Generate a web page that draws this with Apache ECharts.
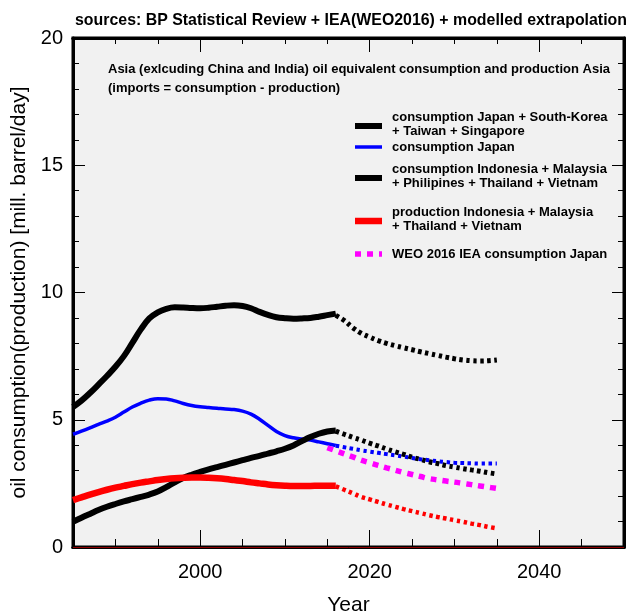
<!DOCTYPE html>
<html><head><meta charset="utf-8">
<script src="https://cdn.jsdelivr.net/npm/echarts@6/dist/echarts.min.js"></script>
<style>html,body{margin:0;padding:0;background:#fff}#c{width:630px;height:613px}</style>
</head><body><div id="c"></div>
<script>
const histYears = [1985,1986,1987,1988,1989,1990,1991,1992,1993,1994,1995,1996,1997,1998,1999,2000,2001,2002,2003,2004,2005,2006,2007,2008,2009,2010,2011,2012,2013,2014,2015,2016];
const projYears = [2016,2017,2018,2019,2020,2021,2022,2023,2024,2025,2026,2027,2028,2029,2030,2031,2032,2033,2034,2035];
const weoYears = [2015,2016,2017,2018,2019,2020,2021,2022,2023,2024,2025,2026,2027,2028,2029,2030,2031,2032,2033,2034,2035];

const consJKTS = [5.5,5.75,6.05,6.38,6.72,7.08,7.5,8.02,8.55,8.98,9.22,9.36,9.42,9.41,9.39,9.38,9.4,9.44,9.48,9.5,9.47,9.38,9.24,9.12,9.03,8.99,8.97,8.98,9.0,9.05,9.11,9.17];
const consJKTSProj = [9.1,8.9,8.62,8.4,8.25,8.11,8.0,7.91,7.83,7.75,7.67,7.6,7.53,7.46,7.4,7.35,7.32,7.31,7.32,7.35];
const consJapan = [4.43,4.55,4.68,4.82,4.95,5.1,5.3,5.5,5.65,5.77,5.83,5.82,5.74,5.64,5.56,5.51,5.48,5.45,5.42,5.4,5.34,5.22,5.02,4.78,4.54,4.38,4.29,4.24,4.2,4.13,4.06,3.99];
const consJapanProj = [3.98,3.92,3.86,3.8,3.75,3.7,3.65,3.6,3.55,3.5,3.45,3.41,3.37,3.34,3.31,3.3,3.29,3.28,3.28,3.28];
const consIMPTV = [0.99,1.15,1.3,1.45,1.58,1.69,1.79,1.88,1.97,2.06,2.18,2.35,2.54,2.71,2.84,2.95,3.05,3.14,3.23,3.32,3.41,3.5,3.58,3.67,3.76,3.86,3.99,4.16,4.32,4.45,4.54,4.58];
const consIMPTVProj = [4.55,4.43,4.31,4.2,4.08,3.97,3.85,3.74,3.64,3.53,3.44,3.35,3.28,3.2,3.14,3.08,3.03,2.98,2.92,2.87];
const prodIMTV = [1.84,1.95,2.06,2.16,2.25,2.33,2.4,2.47,2.53,2.58,2.63,2.67,2.7,2.72,2.73,2.73,2.72,2.7,2.67,2.63,2.59,2.54,2.5,2.46,2.43,2.41,2.4,2.4,2.4,2.41,2.41,2.41];
const prodIMTVProj = [2.38,2.25,2.11,1.97,1.87,1.77,1.67,1.58,1.49,1.41,1.33,1.25,1.18,1.12,1.05,0.99,0.92,0.86,0.79,0.73];
const weoJapan = [3.9,3.78,3.66,3.54,3.41,3.31,3.21,3.11,3.02,2.93,2.85,2.77,2.69,2.64,2.59,2.55,2.5,2.45,2.4,2.35,2.3];

const xLabelValues = [2000,2020,2040];
const legendNames = [
  "consumption Japan + South-Korea\n+ Taiwan + Singapore",
  "consumption Japan",
  "consumption Indonesia + Malaysia\n+ Philipines + Thailand + Vietnam",
  "production Indonesia + Malaysia\n+ Thailand + Vietnam",
  "WEO 2016 IEA consumption Japan"
];
const titleText = "sources: BP Statistical Review + IEA(WEO2016) + modelled extrapolation";
const noteText = ["Asia (exlcuding China and India) oil equivalent consumption and production Asia", "(imports = consumption - production)"];

function pairs(xs, ys){ return xs.map((x,i)=>[x, ys[i]]); }
const FONT = "Liberation Sans, Arial, Helvetica, sans-serif";

function lineSeries(xs, ys, color, width, type){
  return {type:'line', data: pairs(xs, ys), smooth:0.4, symbol:'none', showSymbol:false,
    lineStyle:{color:color, width:width, type:type||'solid', cap:'butt'}, z:3};
}

const chart = echarts.init(document.getElementById('c'), null, {renderer:'canvas'});
const series = [
  lineSeries(histYears, consJKTS, '#000', 6),
  lineSeries(projYears, consJKTSProj, '#000', 5, [3.5,3.5]),
  lineSeries(histYears, consJapan, '#0000ff', 3.5),
  lineSeries(projYears, consJapanProj, '#0000ff', 4, [3.5,3.5]),
  lineSeries(histYears, consIMPTV, '#000', 6),
  lineSeries(projYears, consIMPTVProj, '#000', 5, [3.5,3.5]),
  lineSeries(histYears, prodIMTV, '#ff0000', 6.5),
  lineSeries(projYears, prodIMTVProj, '#ff0000', 4.5, [3.5,3.5]),
  lineSeries(weoYears, weoJapan, '#ff00ff', 5.5, [6,6])
];
series[0].markLine = {silent:true, symbol:'none', label:{show:false}, lineStyle:{color:'#8b0000', width:1, type:'solid'}, data:[{yAxis:0}]};

const legendY = [126, 147, 178, 221, 254];
const legendColors = ['#000','#0000ff','#000','#ff0000','#ff00ff'];
const legendWidths = [6,3.5,6,6.5,5.5];
const legendDash = [null,null,null,null,[6,6]];
const graphics = [];
legendNames.forEach((n,i)=>{
  graphics.push({type:'line', shape:{x1:355, y1:legendY[i], x2:382, y2:legendY[i]},
    style:{stroke:legendColors[i], lineWidth:legendWidths[i], lineDash:legendDash[i]}, z:10});
  graphics.push({type:'text', x:392, y:legendY[i] - (n.indexOf('\n') >= 0 ? 2 : 0), style:{text:n, font:'bold 13px '+FONT, fill:'#000', verticalAlign:'middle', lineHeight:14}, z:10});
});
graphics.push({type:'text', x:108, y:69, style:{text:noteText[0], font:'bold 13px '+FONT, fill:'#000', verticalAlign:'middle'}, z:10});
graphics.push({type:'text', x:108, y:88, style:{text:noteText[1], font:'bold 13px '+FONT, fill:'#000', verticalAlign:'middle'}, z:10});

const xBase = {type:'value', min:1985, max:2050, interval:5, gridIndex:0,
  axisLine:{show:true, onZero:false, lineStyle:{color:'#000', width:3}}, splitLine:{show:false}};
const yBase = {type:'value', min:0, max:20, interval:5,
  axisLine:{show:true, lineStyle:{color:'#000', width:3}}, splitLine:{show:false}};

chart.setOption({
  animation:false,
  backgroundColor:'#fff',
  title:{text:titleText, left:346, top:8, textAlign:'center', textStyle:{fontFamily:FONT, fontWeight:'bold', fontSize:15.9, color:'#000'}},
  grid:{left:73, right:6, top:38, bottom:66, show:true, containLabel:false, outerBoundsMode:'none', backgroundColor:'#f1f1f1', borderColor:'#000', borderWidth:3},
  xAxis:[
    Object.assign({}, xBase, {position:'bottom', name:'Year', nameLocation:'middle', nameGap:48,
      nameTextStyle:{fontFamily:FONT, fontSize:21, color:'#000'},
      axisTick:{inside:true, length:8, lineStyle:{color:'#000', width:1}},
      axisLabel:{customValues:xLabelValues, formatter:v=>String(v), fontFamily:FONT, fontSize:20, color:'#000', margin:15}}),
    Object.assign({}, xBase, {position:'bottom',
      axisTick:{inside:true, length:17, customValues:xLabelValues, lineStyle:{color:'#000', width:1}},
      axisLabel:{show:false}}),
    Object.assign({}, xBase, {position:'top',
      axisTick:{inside:true, length:6, lineStyle:{color:'#000', width:1}}, axisLabel:{show:false}}),
    Object.assign({}, xBase, {position:'top',
      axisTick:{inside:true, length:14, customValues:xLabelValues, lineStyle:{color:'#000', width:1}}, axisLabel:{show:false}})
  ],
  yAxis:[
    Object.assign({}, yBase, {position:'left', name:'oil consumption(production) [mill. barrel/day]', nameLocation:'middle', nameGap:37,
      nameTextStyle:{fontFamily:FONT, fontSize:21, color:'#000'},
      axisTick:{inside:true, length:12, lineStyle:{color:'#000', width:1}},
      minorTick:{show:true, splitNumber:5, length:6, lineStyle:{color:'#000', width:1}},
      axisLabel:{fontFamily:FONT, fontSize:20, color:'#000', margin:10}}),
    Object.assign({}, yBase, {position:'right',
      axisTick:{inside:true, length:12, lineStyle:{color:'#000', width:1}},
      minorTick:{show:true, splitNumber:5, length:6, lineStyle:{color:'#000', width:1}},
      axisLabel:{show:false}})
  ],
  series: series,
  graphic: graphics
});
</script></body></html>
